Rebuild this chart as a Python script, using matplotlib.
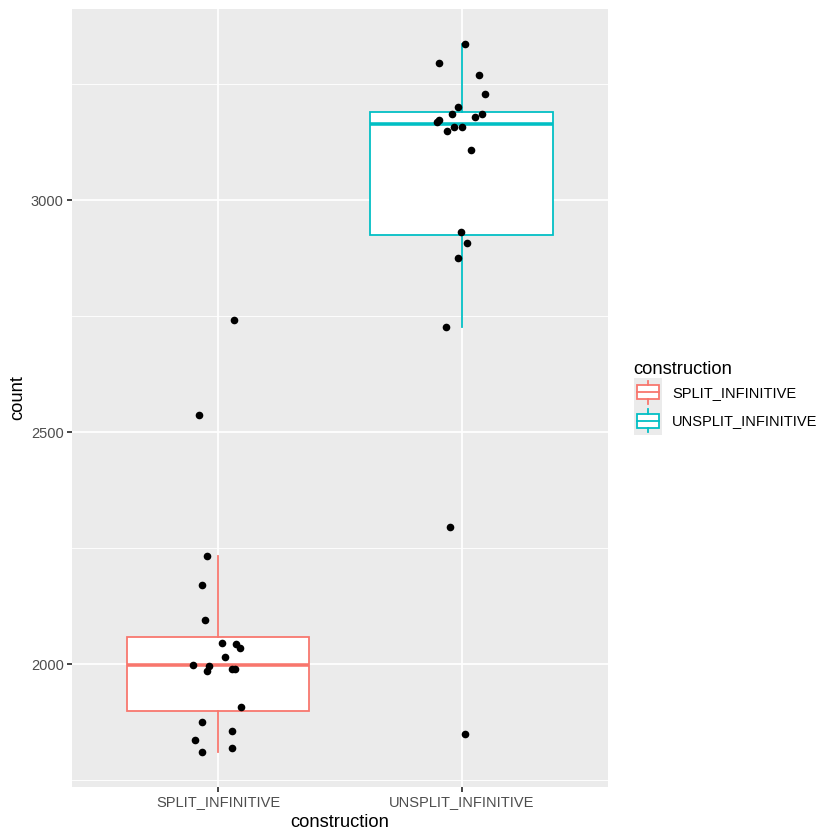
import matplotlib
matplotlib.use("Agg")
import matplotlib.pyplot as plt
from matplotlib.legend_handler import HandlerBase
from matplotlib.patches import Rectangle
from matplotlib.lines import Line2D
import numpy as np

plt.rcParams['font.family'] = ['Liberation Sans', 'DejaVu Sans']

categories = ["SPLIT_INFINITIVE", "UNSPLIT_INFINITIVE"]
colors = ["#F8766D", "#00BFC4"]

split_counts = [2233, 2170, 2095, 2046, 2043, 2036, 2016, 1999, 1997, 1986,
                1991, 1991, 1909, 1875, 1856, 1836, 1820, 1812, 2741, 2537]
split_jitter = [-0.044, -0.065, -0.055, 0.015, 0.075, 0.089, 0.029, -0.103, -0.037, -0.047,
                0.056, 0.070, 0.093, -0.065, 0.059, -0.093, 0.059, -0.065, 0.067, -0.079]

unsplit_counts = [3336, 3295, 3269, 3230, 3200, 3187, 3187, 3180, 3174, 3169,
                  3158, 3158, 3150, 3108, 2932, 2908, 2876, 2726, 2295, 1850]
unsplit_jitter = [0.016, -0.091, 0.073, 0.098, -0.015, -0.040, 0.085, 0.055, -0.093, -0.099,
                  -0.032, 0.0, -0.059, 0.040, -0.004, 0.021, -0.014, -0.066, -0.049, 0.016]

y_major = [2000, 2500, 3000]
y_minor = [1750, 2250, 2750, 3250]

W, H = 840, 840
fig = plt.figure(figsize=(7, 7), dpi=120)
ax = fig.add_axes([72 / W, 1 - 787 / H, (607.7 - 72) / W, (787 - 9) / H])
ax.set_facecolor("#EBEBEB")
for s in ax.spines.values():
    s.set_visible(False)

lw = 1.07
data = [split_counts, unsplit_counts]
positions = [1, 2]
for i, (d, c) in enumerate(zip(data, colors)):
    ax.boxplot([d], positions=[positions[i]], widths=0.75, whis=1.5, showfliers=False,
               showcaps=False, patch_artist=True,
               boxprops=dict(facecolor="white", edgecolor=c, linewidth=lw),
               whiskerprops=dict(color=c, linewidth=lw),
               medianprops=dict(color=c, linewidth=2 * lw, solid_capstyle='butt'),
               zorder=3)

ax.scatter(np.array(positions[0]) + np.array(split_jitter), split_counts, s=21, color="black",
           zorder=5, linewidths=0)
ax.scatter(np.array(positions[1]) + np.array(unsplit_jitter), unsplit_counts, s=21, color="black",
           zorder=5, linewidths=0)

allv = np.array(split_counts + unsplit_counts)
rng = allv.max() - allv.min()
ax.set_ylim(allv.min() - 0.05 * rng, allv.max() + 0.05 * rng)
ax.set_xlim(0.4, 2.6)

ax.set_xticks(positions)
ax.set_xticklabels(categories)
ax.set_yticks(y_major)
ax.set_yticks(y_minor, minor=True)
ax.grid(True, which="major", color="white", linewidth=lw, zorder=0)
ax.grid(True, which="minor", axis="y", color="white", linewidth=lw / 2, zorder=0)
ax.set_axisbelow(True)
ax.tick_params(axis="both", which="major", length=2.75, width=lw, color="#333333",
               labelcolor="#4D4D4D", labelsize=8.8, pad=2.2)
ax.tick_params(axis="both", which="minor", length=0)

ax.set_xlabel("construction", fontsize=11, labelpad=2.75)
ax.set_ylabel("count", fontsize=11, labelpad=2.75)


class BoxHandler(HandlerBase):
    def create_artists(self, legend, orig_handle, xdescent, ydescent, width, height, fontsize, trans):
        c = orig_handle.get_color()
        x0, y0 = -xdescent, -ydescent
        arts = []
        arts.append(Rectangle((x0, y0), width, height, fc="#EBEBEB", ec="none", transform=trans))
        arts.append(Rectangle((x0 + 0.125 * width, y0 + 0.25 * height), 0.75 * width, 0.5 * height,
                              fc="white", ec=c, lw=lw, transform=trans))
        arts.append(Line2D([x0 + 0.125 * width, x0 + 0.875 * width], [y0 + 0.5 * height] * 2,
                           color=c, lw=lw, transform=trans))
        arts.append(Line2D([x0 + 0.5 * width] * 2, [y0 + 0.1 * height, y0 + 0.25 * height],
                           color=c, lw=lw, transform=trans))
        arts.append(Line2D([x0 + 0.5 * width] * 2, [y0 + 0.75 * height, y0 + 0.9 * height],
                           color=c, lw=lw, transform=trans))
        return arts


handles = [Line2D([], [], color=c) for c in colors]
leg = fig.legend(handles, categories, handler_map={Line2D: BoxHandler()},
                 loc="center left", bbox_to_anchor=(633.5 / W, 1 - 398 / H),
                 frameon=False, fontsize=8.8, title="construction", title_fontsize=11,
                 handlelength=1.96, handleheight=2.645, labelspacing=0, handletextpad=0.68,
                 borderpad=0, borderaxespad=0, alignment="left")

fig.savefig("out.png", dpi=120)
